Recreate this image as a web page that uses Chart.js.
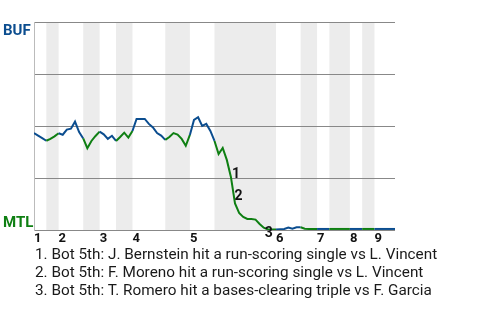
<!DOCTYPE html>
<html>
<head>
<meta charset="utf-8">
<script src="https://cdn.jsdelivr.net/npm/chart.js@4/dist/chart.umd.min.js"></script>
<style>
  body { margin: 0; background: #fff; }
  #wrap { position: relative; width: 480px; height: 320px; }
  #notas {
    position: absolute; left: 35px; top: 245px;
    font: 15.3px Roboto, sans-serif; line-height: 18px; color: #1a1a1a;
    white-space: nowrap;
  }
</style>
</head>
<body>
<div id="wrap">
  <canvas id="wpChart" width="480" height="320"></canvas>
  <div id="notas"></div>
</div>
<script>
// inicio de cada meia entrada (indice da jogada): topo e fundo
var inicioTopo = [0, 6, 16, 24, 38, 59, 69, 77, 83];
var inicioFundo = [3, 12, 20, 32, 44, 65, 72, 80];
var fimJogo = 88;
var rotulosEntrada = ["1", "2", "3", "4", "5", "6", "7", "8", "9"];

// probabilidade de vitoria do BUF (%) por jogada
var probBUF = [
  46.6, 45.4, 44.2, 42.9, 43.8, 45.0, 46.5, 45.8, 48.3, 48.7,
  52.1, 47.1, 44.0, 39.3, 42.8, 45.2, 47.3, 46.0, 43.8, 45.3,
  42.8, 44.7, 46.8, 44.4, 47.6, 53.4, 53.4, 53.4, 51.0, 49.3,
  46.6, 45.4, 43.3, 44.7, 46.6, 45.9, 43.8, 40.5, 45.7, 52.9,
  54.2, 50.0, 51.0, 47.6, 42.8, 36.5, 39.4, 33.7, 25.5, 12.8,
  8.2, 6.3, 5.3, 5.3, 5.0, 2.9, 1.1, 0.3, 0.3, 0.3,
  0.4, 0.5, 1.2, 0.6, 1.3, 1.3, 0.6, 0.5, 0.5, 0.5,
  0.5, 0.5, 0.5, 0.5, 0.5, 0.5, 0.5, 0.5, 0.5, 0.5,
  0.5, 0.5, 0.5, 0.5, 0.5, 0.5, 0.5, 0.5, 0.5
];

// jogadas destacadas
var jogadasChave = [48, 49, 57];
var descricoes = [
  "1. Bot 5th: J. Bernstein hit a run-scoring single vs L. Vincent",
  "2. Bot 5th: F. Moreno hit a run-scoring single vs L. Vincent",
  "3. Bot 5th: T. Romero hit a bases-clearing triple vs F. Garcia"
];

var corBUF = "#0b4d8f";
var corMTL = "#0e7f12";

document.getElementById("notas").innerHTML = descricoes.join("<br>");

function ehFundo(x) {
  for (var i = 0; i < inicioFundo.length; i++) {
    var fim = i + 1 < inicioTopo.length ? inicioTopo[i + 1] : fimJogo;
    if (x >= inicioFundo[i] && x < fim) return true;
  }
  return false;
}

var pontos = probBUF.map(function (v, i) {
  return { x: i, y: v };
});

var faixas = {
  id: "faixas",
  beforeDraw: function (chart) {
    var ctx = chart.ctx;
    var xs = chart.scales.x;
    var area = chart.chartArea;
    ctx.save();
    ctx.fillStyle = "#ececec";
    inicioFundo.forEach(function (ini, i) {
      var fim = i + 1 < inicioTopo.length ? inicioTopo[i + 1] : fimJogo;
      var x0 = xs.getPixelForValue(ini);
      var x1 = xs.getPixelForValue(fim);
      ctx.fillRect(x0, area.top, x1 - x0, area.bottom - area.top);
    });
    ctx.restore();
  },
  afterDraw: function (chart) {
    var ctx = chart.ctx;
    var ys = chart.scales.y;
    var meta = chart.getDatasetMeta(0);
    ctx.save();
    ctx.font = "bold 15px Roboto, sans-serif";
    ctx.textAlign = "left";
    ctx.textBaseline = "alphabetic";
    ctx.fillStyle = corBUF;
    ctx.fillText("BUF", 3, ys.getPixelForValue(100) + 12.5);
    ctx.fillStyle = corMTL;
    ctx.fillText("MTL", 3, ys.getPixelForValue(0) - 3.5);

    // numeros das jogadas chave
    var desloc = [[1, -2], [-0.5, -7], [-3, 4.5]];
    ctx.font = "bold 14px Roboto, sans-serif";
    ctx.fillStyle = "#111";
    ctx.textBaseline = "middle";
    jogadasChave.forEach(function (idx, k) {
      var p = meta.data[idx];
      ctx.fillText(String(k + 1), p.x + desloc[k][0], p.y + desloc[k][1]);
    });
    ctx.restore();
  },
};

new Chart(document.getElementById("wpChart"), {
  type: "line",
  data: {
    datasets: [
      {
        data: pontos,
        borderWidth: 2,
        pointRadius: 0,
        tension: 0,
        borderColor: corBUF,
        segment: {
          borderColor: function (ctx) {
            return ehFundo(ctx.p0.parsed.x) ? corMTL : corBUF;
          },
        },
      },
    ],
  },
  options: {
    responsive: false,
    animation: { duration: 0 },
    layout: { padding: { top: 22, right: 85, left: 0, bottom: 0 } },
    plugins: { legend: { display: false }, tooltip: { enabled: false } },
    scales: {
      x: {
        type: "linear",
        min: 0,
        max: fimJogo,
        grid: { display: false, drawTicks: false },
        border: { display: false },
        afterBuildTicks: function (scale) {
          scale.ticks = inicioTopo.map(function (v) {
            return { value: v };
          });
        },
        afterFit: function (scale) {
          scale.height = 90;
        },
        ticks: {
          autoSkip: false,
          maxRotation: 0,
          align: "start",
          padding: 1,
          color: "#111",
          font: { family: "Roboto", size: 13, weight: "bold" },
          callback: function (value, index) {
            return rotulosEntrada[index];
          },
        },
      },
      y: {
        min: 0,
        max: 100,
        afterFit: function (scale) {
          scale.width = 34;
        },
        ticks: { stepSize: 25, display: false },
        grid: { color: "#888", drawTicks: false },
        border: { color: "#bbb", width: 1 },
      },
    },
  },
  plugins: [faixas],
});
</script>
</body>
</html>
